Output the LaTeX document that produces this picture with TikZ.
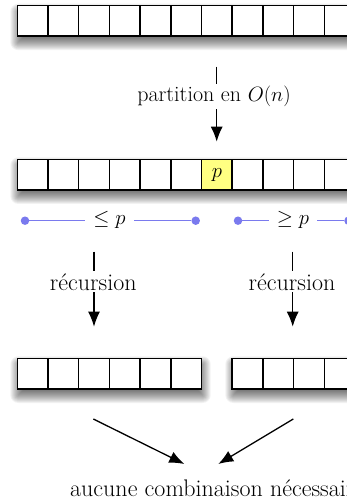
\documentclass[tikz,border=0pt]{standalone}
\usetikzlibrary{arrows.meta}
\definecolor{pblue}{RGB}{122,122,238}
\definecolor{pyellow}{RGB}{255,255,130}
\tikzset{
  cell/.style={draw=black, line width=1.5pt, fill=white, minimum width=30.7pt,
    minimum height=30.5pt, inner sep=0pt, outer sep=0pt},
  pivot/.style={cell, fill=pyellow},
  txt/.style={inner sep=2pt, font=\fontsize{24}{28}\selectfont},
  lbl/.style={txt, fill=white},
  arr/.style={line width=1.3pt, -{Latex[length=15pt,width=12pt]}},
  bline/.style={draw=pblue, line width=1pt},
  bdot/.style={circle, fill=pblue, inner sep=0pt, minimum size=8.5pt},
}
\newcommand{\rowshade}[4]{%
  \foreach \k in {-6,...,8}{%
    \pgfmathsetmacro\rr{max(\k,0.1)}%
    \fill[black, opacity=0.05, rounded corners=\rr pt]
      (#1+1-\k, #2+6-\k) rectangle (#3+1+\k, #4+6+\k);}}
\begin{document}
\begin{tikzpicture}[x=1pt, y=-1pt]
\useasboundingbox (0,0) rectangle (347,502);
\clip (0,0) rectangle (347,502);
\fill[white] (0,0) rectangle (347,502);
% shadows
\rowshade{17.3}{5.7}{385.7}{36.2}
\rowshade{17.3}{159.3}{385.7}{190}
\rowshade{17.3}{358.3}{201.7}{389}
\rowshade{232.3}{358.3}{385.7}{389}
% row 1
\foreach \i in {0,...,11}
  \node[cell] (a\i) at (32.65+30.7*\i, 21) {};
% row 2
\foreach \i in {0,...,5,7,8,9,10,11}
  \node[cell] (b\i) at (32.65+30.7*\i, 174.65) {};
\node[pivot] (b6) at (32.65+30.7*6, 174.65) {\fontsize{22}{26}\selectfont$p$};
% row 3
\foreach \i in {0,...,5,7,8,9,10,11}
  \node[cell] (c\i) at (32.65+30.7*\i, 373.65) {};
% partition arrow
\coordinate (p1) at (216.7, 66.7);
\coordinate (p2) at (216.7, 141.7);
\draw[arr] (p1) -- (p2);
\node[lbl, anchor=base, font=\fontsize{22}{26}\selectfont] (part) at (214, 101.5) {partition en $O(n)$};
% blue intervals
\node[bdot] (l1) at (25, 220.7) {};
\node[bdot] (l2) at (195.7, 220.7) {};
\node[bdot] (r1) at (238, 220.7) {};
\node[bdot] (r2) at (348.5, 220.7) {};
\draw[bline] (l1) -- (l2);
\draw[bline] (r1) -- (r2);
\node[lbl, anchor=base, inner xsep=8pt, inner ysep=5pt, font=\fontsize{22}{26}\selectfont] (le) at (109.5, 225) {$\leq p$};
\node[lbl, anchor=base, inner xsep=8pt, inner ysep=5pt, font=\fontsize{22}{26}\selectfont] (ge) at (293, 225) {$\geq p$};
% recursion arrows
\coordinate (rl1) at (94, 251.7);
\coordinate (rl2) at (94, 326.7);
\coordinate (rr1) at (292.7, 251.7);
\coordinate (rr2) at (292.7, 326.7);
\draw[arr] (rl1) -- (rl2);
\draw[arr] (rr1) -- (rr2);
\node[lbl, anchor=base] (recl) at (93.3, 290) {récursion};
\node[lbl, anchor=base] (recr) at (292, 290) {récursion};
% combine arrows
\coordinate (dl1) at (93.3, 419);
\coordinate (dl2) at (184.3, 464);
\coordinate (dr1) at (293.3, 419);
\coordinate (dr2) at (218.3, 464);
\draw[arr] (dl1) -- (dl2);
\draw[arr] (dr1) -- (dr2);
\node[txt, anchor=base west, inner sep=0pt] (fin) at (70, 496) {aucune combinaison nécessaire};
\end{tikzpicture}
\end{document}
